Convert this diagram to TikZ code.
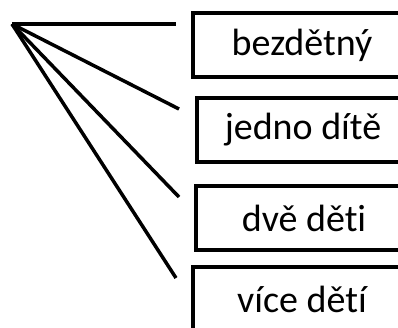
\documentclass[tikz,border=0pt]{standalone}
\usepackage{fontspec}
\setmainfont[RawFeature=-liga]{Carlito}

\begin{document}
\begin{tikzpicture}[x=1pt,y=-1pt]
\useasboundingbox (0,0) rectangle (398,327);
\clip (0,0) rectangle (398,327);
	\begin{scope}[every node/.style = {rectangle, draw, line width=3.5pt,
		minimum height=64pt, inner sep=0pt,
		font=\fontsize{38}{42}\selectfont}]
		\node[minimum width=218pt] (bezdetny) at (302,45) {bezdětný};
		\node[minimum width=212pt] (jedno) at (303,130) {jedno dítě};
		\node[minimum width=216pt] (dve) at (304,218) {dvě děti};
		\node[minimum width=218pt] (vice) at (302,299) {více dětí};
	\end{scope}
	\coordinate (koren) at (12,24);
	\coordinate (k1) at (176,24);
	\coordinate (k2) at (179,109);
	\coordinate (k3) at (179,197);
	\coordinate (k4) at (176,278);
	\begin{scope}[every edge/.style={draw=black, line width=3.5pt}]
		\path (koren) edge (k1);
		\path (koren) edge (k2);
		\path (koren) edge (k3);
		\path (koren) edge (k4);
	\end{scope}
\end{tikzpicture}
\end{document}
